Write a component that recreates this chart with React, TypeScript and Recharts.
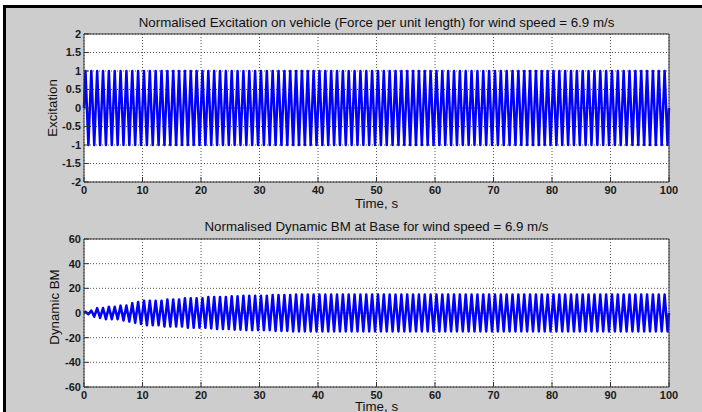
import { CartesianGrid, Line, LineChart, XAxis, YAxis } from "recharts";

// Crest and trough of every one-second cycle, t = 0..100 s.
const excitationHigh = [
  1, 1, 1, 1, 1, 1, 1, 1, 1, 1,
  1, 1, 1, 1, 1, 1, 1, 1, 1, 1,
  1, 1, 1, 1, 1, 1, 1, 1, 1, 1,
  1, 1, 1, 1, 1, 1, 1, 1, 1, 1,
  1, 1, 1, 1, 1, 1, 1, 1, 1, 1,
  1, 1, 1, 1, 1, 1, 1, 1, 1, 1,
  1, 1, 1, 1, 1, 1, 1, 1, 1, 1,
  1, 1, 1, 1, 1, 1, 1, 1, 1, 1,
  1, 1, 1, 1, 1, 1, 1, 1, 1, 1,
  1, 1, 1, 1, 1, 1, 1, 1, 1, 1,
];
const excitationLow = [
  1, 1, 1, 1, 1, 1, 1, 1, 1, 1,
  1, 1, 1, 1, 1, 1, 1, 1, 1, 1,
  1, 1, 1, 1, 1, 1, 1, 1, 1, 1,
  1, 1, 1, 1, 1, 1, 1, 1, 1, 1,
  1, 1, 1, 1, 1, 1, 1, 1, 1, 1,
  1, 1, 1, 1, 1, 1, 1, 1, 1, 1,
  1, 1, 1, 1, 1, 1, 1, 1, 1, 1,
  1, 1, 1, 1, 1, 1, 1, 1, 1, 1,
  1, 1, 1, 1, 1, 1, 1, 1, 1, 1,
  1, 1, 1, 1, 1, 1, 1, 1, 1, 1,
];

const bmHigh = [
  1, 2, 4, 4, 5, 5, 6, 6, 8, 9,
  10, 10, 10, 10, 11, 11, 11, 12, 12, 12,
  12, 13, 13, 13, 13, 13.5, 13.5, 14, 14, 14,
  14, 14, 14.5, 14.5, 14.5, 14.5, 15, 15, 15, 15,
  15, 15, 15, 15, 15, 15, 15, 15, 15, 15,
  15, 15, 15, 15, 15, 15, 15, 15, 15, 15,
  15, 15, 15, 15, 15, 15, 15, 15, 15, 15,
  15, 15, 15, 15, 15, 15, 15, 15, 15, 15,
  15, 15, 15, 15, 15, 15, 15, 15, 15, 15,
  15, 15, 15, 15, 15, 15, 15, 15, 15, 15,
];
const bmLow = [
  1, 3, 4, 5, 5, 5, 6, 7, 8, 9,
  10, 10, 10, 11, 11, 11, 11, 12, 12, 12,
  12, 12.5, 13, 13, 13, 13.5, 13.5, 14, 14, 14,
  14, 14, 14.5, 14.5, 14.5, 15, 15, 15, 15, 15,
  15, 15, 15, 15, 15, 15, 15, 15, 15, 15,
  15, 15, 15, 15, 15, 15, 15, 15, 15, 15,
  15, 15, 15, 15, 15, 15, 15, 15, 15, 15,
  15, 15, 15, 15, 15, 15, 15, 15, 15, 15,
  15, 15, 15, 15, 15, 15, 15, 15, 15, 15,
  15, 15, 15, 15, 15, 15, 15, 15, 15, 15,
];

const timeTicks = [0, 10, 20, 30, 40, 50, 60, 70, 80, 90, 100];
const excitationTicks = [-2, -1.5, -1, -0.5, 0, 0.5, 1, 1.5, 2];
const bmTicks = [-60, -40, -20, 0, 20, 40, 60];

type Point = { t: number; v: number };

// crest a quarter into each cycle, trough three quarters in
function toSeries(high: number[], low: number[]): Point[] {
  const pts: Point[] = [{ t: 0, v: 0 }];
  high.forEach((h, k) => {
    pts.push({ t: k + 0.25, v: h });
    pts.push({ t: k + 0.75, v: -low[k] });
  });
  pts.push({ t: high.length, v: 0 });
  return pts;
}

const excitation = toSeries(excitationHigh, excitationLow);
const dynamicBM = toSeries(bmHigh, bmLow);

const FONT = "'Liberation Sans', Arial, Helvetica, sans-serif";
const FRAME = "#333";
const tickStyle = { fontSize: 11, fontWeight: 700, fill: "#1a1a1a", fontFamily: FONT };

function Caption({ x, y, text, rotate = false }: { x: number; y: number; text: string; rotate?: boolean }) {
  return (
    <div
      style={{
        position: "absolute",
        left: x,
        top: y,
        transform: `translate(-50%, -50%)${rotate ? " rotate(-90deg)" : ""}`,
        whiteSpace: "nowrap",
        fontFamily: FONT,
        fontSize: 13.3,
        color: "#111",
      }}
    >
      {text}
    </div>
  );
}

function Panel({
  data,
  ticks,
  domain,
  top,
  height,
  xAxisHeight,
}: {
  data: Point[];
  ticks: number[];
  domain: [number, number];
  top: number;
  height: number;
  xAxisHeight: number;
}) {
  return (
    <div style={{ position: "absolute", left: 0, top }}>
      <LineChart
        width={702}
        height={height}
        data={data}
        margin={{ top: 33, right: 32, bottom: height - 34 - 148 - xAxisHeight, left: 0 }}
      >
        <CartesianGrid stroke="#555" strokeDasharray="1 2" fill="#ffffff" />
        <XAxis
          dataKey="t"
          type="number"
          domain={[0, 100]}
          ticks={timeTicks}
          interval={0}
          height={xAxisHeight}
          tickSize={-5}
          tickMargin={9}
          axisLine={{ stroke: FRAME }}
          tickLine={{ stroke: FRAME }}
          tick={tickStyle}
        />
        <XAxis
          xAxisId="top"
          orientation="top"
          type="number"
          domain={[0, 100]}
          ticks={timeTicks}
          interval={0}
          height={1}
          tickSize={-5}
          axisLine={{ stroke: FRAME }}
          tickLine={{ stroke: FRAME }}
          tick={false}
        />
        <YAxis
          type="number"
          domain={domain}
          ticks={ticks}
          interval={0}
          width={84}
          tickSize={-5}
          tickMargin={8}
          axisLine={{ stroke: FRAME }}
          tickLine={{ stroke: FRAME }}
          tick={tickStyle}
        />
        <YAxis
          yAxisId="right"
          orientation="right"
          type="number"
          domain={domain}
          ticks={ticks}
          interval={0}
          width={1}
          tickSize={-5}
          axisLine={{ stroke: FRAME }}
          tickLine={{ stroke: FRAME }}
          tick={false}
        />
        <Line
          type="linear"
          dataKey="v"
          stroke="#0000ff"
          strokeWidth={2.5}
          strokeLinejoin="round"
          dot={false}
          isAnimationActive={false}
        />
      </LineChart>
    </div>
  );
}

export default function App() {
  return (
    <div
      style={{
        position: "absolute",
        left: 0,
        top: 0,
        width: 702,
        height: 412,
        overflow: "hidden",
        background: "#ffffff",
      }}
    >
      <div
        style={{
          position: "absolute",
          left: 3,
          top: 5,
          width: 699,
          height: 407,
          boxSizing: "border-box",
          background: "#cdcdcd",
          borderTop: "3px solid #000",
          borderLeft: "3px solid #000",
        }}
      />
      <Caption x={376.5} y={21.5} text="Normalised Excitation on vehicle (Force per unit length) for wind speed = 6.9 m/s" />
      <Caption x={376.5} y={225.5} text="Normalised Dynamic BM at Base for wind speed = 6.9 m/s" />
      <Caption x={376.5} y={203} text="Time, s" />
      <Caption x={376.5} y={406} text="Time, s" />
      <Caption x={51.8} y={108} text="Excitation" rotate />
      <Caption x={54} y={307} text="Dynamic BM" rotate />
      <Panel data={excitation} ticks={excitationTicks} domain={[-2, 2]} top={0} height={215} xAxisHeight={30} />
      <Panel data={dynamicBM} ticks={bmTicks} domain={[-60, 60]} top={205} height={207} xAxisHeight={24} />
    </div>
  );
}
